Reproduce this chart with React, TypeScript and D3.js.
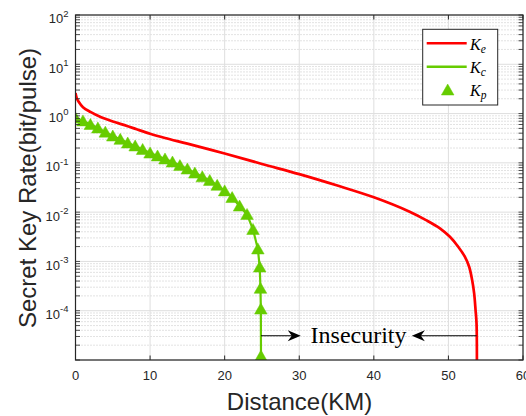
import React from "react";
import * as d3 from "d3";

const xTicks = [0, 10, 20, 30, 40, 50, 60];
const yTickExps = [2, 1, 0, -1, -2, -3, -4];

// K_e (red)
const keX = [0, 0.15, 0.4, 1, 2, 3.3, 5, 6.9, 8.2, 10, 12, 15, 20, 25, 30, 35, 40, 44.8, 47, 48.86, 50.2, 51.31, 52.2, 52.78, 53.18, 53.45, 53.64, 53.77, 53.8];
const keY = [2.6, 2.1, 1.75, 1.35, 1.08, 0.86, 0.69, 0.56, 0.48, 0.39, 0.32, 0.245, 0.155, 0.095, 0.059, 0.035, 0.02, 0.0102, 0.0069, 0.0047, 0.00316, 0.00199, 0.00125, 0.00078, 0.00042, 0.000225, 0.000103, 0.000055, 1e-6];

// K_p (triangles)
const kpX = [0, 1, 2, 3, 4, 5, 6, 7, 8, 9, 10, 11, 12, 13, 14, 15, 16, 17, 18, 19, 20, 21, 22, 23, 23.8, 24.45, 24.7, 24.8, 24.85, 24.87];
const kpY = [0.81, 0.71, 0.6, 0.51, 0.42, 0.35, 0.3, 0.253, 0.22, 0.187, 0.158, 0.138, 0.12, 0.104, 0.088, 0.075, 0.062, 0.052, 0.044, 0.035, 0.027, 0.0198, 0.0133, 0.009, 0.00445, 0.00179, 0.00077, 0.000285, 0.000108, 1.2e-5];

// K_c (green line) = K_p path extended down
const kcX = [...kpX, 24.88];
const kcY = [...kpY, 1e-6];

// annotation
const arrowY = 3.1e-5;
const leftArrow = { from: 24.87, to: 30.2 };
const rightArrow = { from: 53.78, to: 45.1 };
const annoText = "Insecurity";
const annoX = 37.95;

const W = 526, H = 416;
const L = 75.5, R = 523, T = 15, B = 360;
const RED = "#ff0000";
const GREEN = "#66cc00";
const AX = "#262626";

export default function App() {
  const x = d3.scaleLinear().domain([0, 60]).range([L, R]);
  const y = d3.scaleLog().domain([1e-5, 1e2]).range([B, T]);

  const minorVals: number[] = [];
  for (let k = -5; k < 2; k++) for (let m = 2; m <= 9; m++) minorVals.push(m * Math.pow(10, k));
  const majorVals = d3.range(-5, 3).map((e) => Math.pow(10, e));

  const keLine = d3
    .line<number>()
    .x((_, i) => x(keX[i]))
    .y((_, i) => y(keY[i]))
    .curve(d3.curveCatmullRom.alpha(0.5))(keX);
  const kcLine = d3
    .line<number>()
    .x((_, i) => x(kcX[i]))
    .y((_, i) => y(kcY[i]))(kcX);

  const tri = (cx: number, cy: number) =>
    `M${cx},${cy - 6}L${cx + 6.3},${cy + 5}L${cx - 6.3},${cy + 5}Z`;

  const head = (tx: number, ty: number, dir: number) => {
    const len = 13, hw = 5.5, back = 9;
    return `M${tx},${ty}L${tx - dir * len},${ty - hw}L${tx - dir * back},${ty}L${tx - dir * len},${ty + hw}Z`;
  };

  const ay = y(arrowY);
  const tickLen = 4.5;
  const font = "'Liberation Sans', Arial, Helvetica, sans-serif";

  return (
    <svg width={W} height={H} style={{ position: "absolute", left: 0, top: 0, background: "#fff" }}>
      <defs>
        <clipPath id="plot">
          <rect x={L} y={T} width={R - L} height={B - T} />
        </clipPath>
      </defs>
      <rect x={0} y={0} width={W} height={H} fill="#fff" />
      {/* minor grid */}
      {minorVals.map((v, i) => (
        <line key={"mg" + i} x1={L} x2={R} y1={y(v)} y2={y(v)} stroke="#b8b8b8" strokeWidth={0.8} strokeDasharray="1,2" />
      ))}
      {/* major grid */}
      {majorVals.map((v, i) => (
        <line key={"Mg" + i} x1={L} x2={R} y1={y(v)} y2={y(v)} stroke="#dedede" strokeWidth={1} />
      ))}
      {xTicks.map((t) => (
        <line key={"xg" + t} x1={x(t)} x2={x(t)} y1={T} y2={B} stroke="#dedede" strokeWidth={1} />
      ))}

      {/* data */}
      <g clipPath="url(#plot)">
        <path d={keLine || ""} fill="none" stroke={RED} strokeWidth={2.7} />
        <path d={kcLine || ""} fill="none" stroke={GREEN} strokeWidth={2.2} />
        {kpX.map((v, i) => (
          <path key={"tp" + i} d={tri(x(v), y(kpY[i]))} fill={GREEN} stroke={GREEN} strokeWidth={0.5} />
        ))}
      </g>

      {/* axes box */}
      <rect x={L} y={T} width={R - L} height={B - T} fill="none" stroke={AX} strokeWidth={1.2} />
      {/* x ticks */}
      {xTicks.map((t) => (
        <g key={"xt" + t}>
          <line x1={x(t)} x2={x(t)} y1={B} y2={B - tickLen} stroke={AX} />
          <line x1={x(t)} x2={x(t)} y1={T} y2={T + tickLen} stroke={AX} />
          <text x={x(t)} y={380} fontSize={13} fontFamily={font} textAnchor="middle" fill={AX}>
            {t}
          </text>
        </g>
      ))}
      {/* y ticks */}
      {[...majorVals, ...minorVals].map((v, i) => (
        <g key={"yt" + i}>
          <line x1={L} x2={L + tickLen} y1={y(v)} y2={y(v)} stroke={AX} strokeWidth={0.8} />
          <line x1={R} x2={R - tickLen} y1={y(v)} y2={y(v)} stroke={AX} strokeWidth={0.8} />
        </g>
      ))}
      {yTickExps.map((e) => (
        <text key={"yl" + e} x={68.5} y={y(Math.pow(10, e)) + 8.4} fontSize={13} fontFamily={font} textAnchor="end" fill={AX}>
          <tspan>10</tspan>
          <tspan dy={-6.7} fontSize={9.5}>{e < 0 ? "-" + Math.abs(e) : String(e)}</tspan>
        </text>
      ))}

      {/* axis labels */}
      <text x={299.5} y={410} fontSize={24} fontFamily={font} textAnchor="middle" fill={AX}>
        Distance(KM)
      </text>
      <text
        transform={`translate(36,188) rotate(-90)`}
        fontSize={24}
        fontFamily={font}
        textAnchor="middle"
        fill={AX}
      >
        Secret Key Rate(bit/pulse)
      </text>

      {/* annotation arrows */}
      <line x1={x(leftArrow.from)} x2={x(leftArrow.to) - 8} y1={ay} y2={ay} stroke="#000" strokeWidth={1.1} />
      <path d={head(x(leftArrow.to), ay, 1)} fill="#000" />
      <line x1={x(rightArrow.from)} x2={x(rightArrow.to) + 8} y1={ay} y2={ay} stroke="#000" strokeWidth={1.1} />
      <path d={head(x(rightArrow.to), ay, -1)} fill="#000" />
      <text x={x(annoX)} y={343} fontSize={24} fontFamily="'Liberation Serif', 'Times New Roman', serif" textAnchor="middle" fill="#000">
        {annoText}
      </text>

      {/* legend */}
      <rect x={422.7} y={29.3} width={75} height={75.7} fill="#fff" stroke={AX} strokeWidth={1} />
      <line x1={426.7} x2={466.7} y1={43.3} y2={43.3} stroke={RED} strokeWidth={2.5} />
      <line x1={426.7} x2={466.7} y1={66.7} y2={66.7} stroke={GREEN} strokeWidth={2.5} />
      <path d={tri(447.7, 90)} fill={GREEN} stroke={GREEN} strokeWidth={0.5} />
      {[
        { s: "e", yb: 49.5 },
        { s: "c", yb: 73 },
        { s: "p", yb: 96 },
      ].map((d) => (
        <text key={d.s} x={470} y={d.yb} fontSize={16} fontStyle="italic" fontFamily="'Liberation Serif', 'Times New Roman', serif" fill="#000">
          <tspan>K</tspan>
          <tspan dy={3} fontSize={11.5}>{d.s}</tspan>
        </text>
      ))}
    </svg>
  );
}
